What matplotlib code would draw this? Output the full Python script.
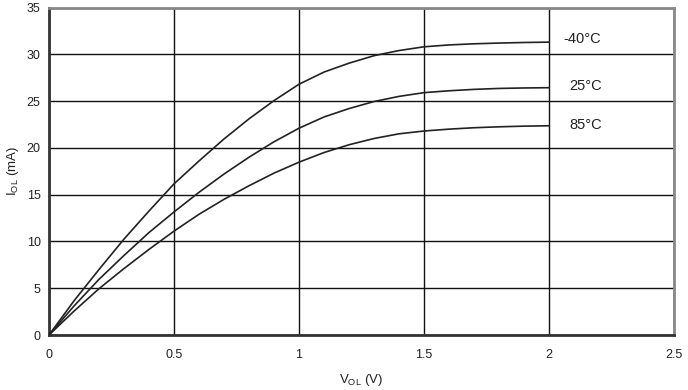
import matplotlib
matplotlib.use("Agg")
import matplotlib.pyplot as plt

plt.rcParams['font.family'] = ['Liberation Sans', 'DejaVu Sans']
plt.rcParams['mathtext.fontset'] = 'custom'
plt.rcParams['mathtext.rm'] = 'Liberation Sans'
plt.rcParams['mathtext.it'] = 'Liberation Sans'

v_ol = [0.0, 0.1, 0.2, 0.3, 0.4, 0.5, 0.6, 0.7, 0.8, 0.9, 1.0,
        1.1, 1.2, 1.3, 1.4, 1.5, 1.6, 1.7, 1.8, 1.9, 2.0]
i_m40 = [0, 3.65, 7.0, 10.25, 13.25, 16.15, 18.6, 20.95, 23.1, 25.05, 26.8,
         28.1, 29.05, 29.85, 30.4, 30.8, 31.0, 31.12, 31.2, 31.26, 31.3]
i_25 = [0, 3.1, 5.95, 8.5, 10.95, 13.15, 15.25, 17.2, 19.0, 20.65, 22.1,
        23.3, 24.2, 24.95, 25.5, 25.9, 26.1, 26.25, 26.35, 26.4, 26.43]
i_85 = [0, 2.55, 4.95, 7.1, 9.15, 11.1, 12.9, 14.5, 15.95, 17.3, 18.47,
        19.5, 20.33, 21.0, 21.5, 21.8, 22.0, 22.15, 22.25, 22.32, 22.36]
labels = ["-40°C", "25°C", "85°C"]
label_pos = [(2.058, 31.6), (2.082, 26.6), (2.082, 22.4)]

x_ticks = [0, 0.5, 1, 1.5, 2, 2.5]
x_tick_labels = ["0", "0.5", "1", "1.5", "2", "2.5"]
y_ticks = [0, 5, 10, 15, 20, 25, 30, 35]

fig = plt.figure(figsize=(6.88, 3.9), dpi=100)
ax = fig.add_axes([49/688, 55/390, 625/688, 327.5/390])

for ys in (i_m40, i_25, i_85):
    ax.plot(v_ol, ys, color='#222222', lw=1.2, zorder=3,
            solid_joinstyle='round', solid_capstyle='round')

for (lx, ly), t in zip(label_pos, labels):
    ax.text(lx, ly, t, fontsize=10.5, ha='left', va='center', color='#222222')

ax.set_xlim(0, 2.5)
ax.set_ylim(0, 35)
ax.set_xticks(x_ticks)
ax.set_xticklabels(x_tick_labels)
ax.set_yticks(y_ticks)
ax.grid(True, color='#111111', lw=1.0)
ax.set_axisbelow(True)
ax.tick_params(length=0, labelsize=9, colors='#222222', pad=6)
ax.tick_params(axis='x', pad=10)

for s in ('left', 'bottom'):
    ax.spines[s].set_color('#333333')
    ax.spines[s].set_linewidth(2)
for s in ('top', 'right'):
    ax.spines[s].set_color('#888888')
    ax.spines[s].set_linewidth(2)

ax.set_xlabel(r"V$_{\rm OL}$ (V)", fontsize=9.5, color='#222222', va='center')
ax.set_ylabel(r"I$_{\rm OL}$ (mA)", fontsize=9.5, color='#222222', va='center')
ax.xaxis.set_label_coords(0.5, -0.137)
ax.yaxis.set_label_coords(-0.058, 0.5)

fig.savefig("out.png", dpi=100)
